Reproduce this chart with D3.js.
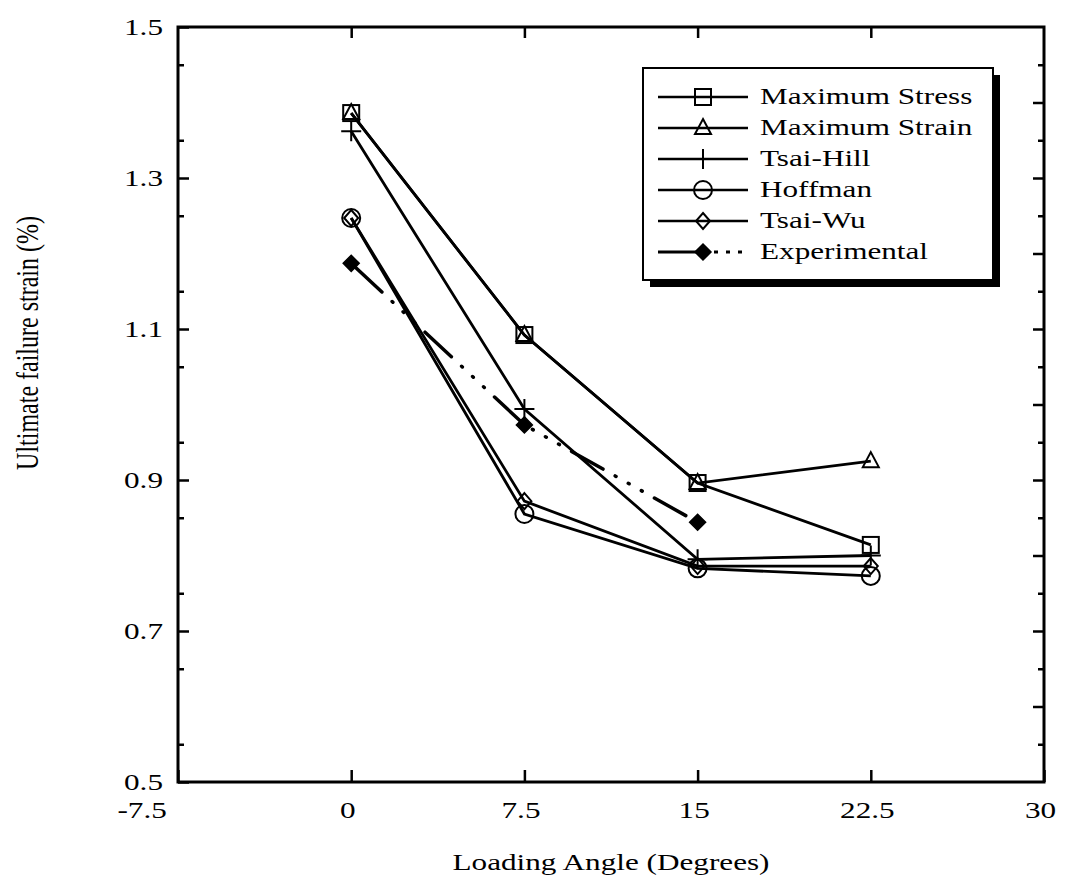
<!DOCTYPE html>
<html>
<head>
<meta charset="utf-8">
<script src="https://cdn.jsdelivr.net/npm/d3@7"></script>
<style>
  body { margin: 0; background: #fff; }
  svg text { font-family: "Liberation Serif", "Times New Roman", Times, "DejaVu Serif", serif; }
</style>
</head>
<body>
<svg id="chart" width="1071" height="884"></svg>
<script>
// loading angles (degrees)
var angles = [0, 7.5, 15, 22.5];
var angles_exp = [0, 7.5, 15];

// ultimate failure strain (%) per criterion
var max_stress = [1.386, 1.092, 0.896, 0.814];
var max_strain = [1.386, 1.092, 0.896, 0.925];
var tsai_hill = [1.362, 0.994, 0.795, 0.800];
var hoffman = [1.247, 0.855, 0.783, 0.773];
var tsai_wu = [1.247, 0.872, 0.786, 0.786];
var experimental = [1.187, 0.973, 0.844];

var series_names = ["Maximum Stress", "Maximum Strain", "Tsai-Hill", "Hoffman", "Tsai-Wu", "Experimental"];

var x_ticks = [-7.5, 0, 7.5, 15, 22.5, 30];
var y_ticks = [0.5, 0.7, 0.9, 1.1, 1.3, 1.5];

var margin = {top: 27, right: 27, bottom: 102, left: 178};
var svg = d3.select("#chart");
var width = +svg.attr("width") - margin.left - margin.right;
var height = +svg.attr("height") - margin.top - margin.bottom;
var g = svg.append("g").attr("transform", `translate(${margin.left}, ${margin.top})`);

var xScale = d3.scaleLinear().domain([-7.5, 30]).range([0, width]);
var yScale = d3.scaleLinear().domain([0.5, 1.5]).range([height, 0]);

var minor_y = d3.range(0.55, 1.5, 0.1).map(d => +d.toFixed(2));

// the scanned figure is wider than tall, so text is stretched sideways
var K = 1.3;
function stretch(sel) {
  sel.each(function() {
    var t = d3.select(this);
    var x = +t.attr("x") || 0;
    t.attr("x", x / K).attr("transform", `scale(${K},1)`);
  });
}

function styleAxis(sel) {
  sel.attr("font-family", null).attr("font-size", null);
  sel.select(".domain").remove();
  sel.selectAll(".tick line").attr("stroke", "#000").attr("stroke-width", 2.5);
  sel.selectAll(".tick text").attr("fill", "#000").attr("font-size", 24).call(stretch);
}

// left axis
g.append("g")
  .call(d3.axisLeft(yScale).tickValues(y_ticks).tickSize(-11).tickPadding(15).tickFormat(d3.format(".1f")))
  .call(styleAxis);
g.append("g")
  .call(d3.axisLeft(yScale).tickValues(minor_y).tickSize(-6).tickFormat(""))
  .call(styleAxis);
// right axis
g.append("g")
  .attr("transform", `translate(${width}, 0)`)
  .call(d3.axisRight(yScale).tickValues(d3.range(0.6, 1.45, 0.1).map(d => +d.toFixed(2))).tickSize(-11).tickFormat(""))
  .call(styleAxis);
g.append("g")
  .attr("transform", `translate(${width}, 0)`)
  .call(d3.axisRight(yScale).tickValues(minor_y).tickSize(-6).tickFormat(""))
  .call(styleAxis);
// bottom axis
var xAxis = g.append("g")
  .attr("transform", `translate(0, ${height})`)
  .call(d3.axisBottom(xScale).tickValues(x_ticks).tickSize(-12).tickPadding(19).tickFormat(d => d))
  .call(styleAxis);
// labels sit a little left of their ticks; the first one well left of the axis
xAxis.selectAll(".tick text").attr("dx", (d, i) => i == 0 ? -28 : -3);
// top axis
g.append("g")
  .call(d3.axisTop(xScale).tickValues(x_ticks.slice(1, -1)).tickSize(-11).tickFormat(""))
  .call(styleAxis);

// frame
g.append("rect")
  .attr("width", width).attr("height", height)
  .attr("fill", "none").attr("stroke", "#000").attr("stroke-width", 3);

// axis titles
svg.append("text")
  .attr("x", 611).attr("y", 870)
  .attr("text-anchor", "middle").attr("font-size", 24)
  .text("Loading Angle (Degrees)")
  .call(stretch);
svg.append("text")
  .attr("transform", `translate(38, 343) rotate(-90) scale(1,${K})`)
  .attr("text-anchor", "middle").attr("font-size", 24)
  .text("Ultimate failure strain (%)");

// markers
function drawMarker(sel, type, x, y) {
  var s = 8;
  if (type == "square") {
    sel.append("rect").attr("x", x - s).attr("y", y - s).attr("width", 2 * s).attr("height", 2 * s)
      .attr("fill", "none").attr("stroke", "#000").attr("stroke-width", 2);
  } else if (type == "triangle") {
    sel.append("path").attr("d", `M${x},${y - 9}L${x + 8},${y + 6}L${x - 8},${y + 6}Z`)
      .attr("fill", "none").attr("stroke", "#000").attr("stroke-width", 2);
  } else if (type == "plus") {
    sel.append("path").attr("d", `M${x - 10},${y}H${x + 10}M${x},${y - 10}V${y + 10}`)
      .attr("fill", "none").attr("stroke", "#000").attr("stroke-width", 2);
  } else if (type == "circle") {
    sel.append("circle").attr("cx", x).attr("cy", y).attr("r", 9)
      .attr("fill", "none").attr("stroke", "#000").attr("stroke-width", 2);
  } else if (type == "diamond") {
    sel.append("path").attr("d", `M${x},${y - 8}L${x + 7},${y}L${x},${y + 8}L${x - 7},${y}Z`)
      .attr("fill", "none").attr("stroke", "#000").attr("stroke-width", 2);
  } else if (type == "fdiamond") {
    sel.append("path").attr("d", `M${x},${y - 8}L${x + 8},${y}L${x},${y + 8}L${x - 8},${y}Z`)
      .attr("fill", "#000").attr("stroke", "#000").attr("stroke-width", 1.5);
  }
}

var all_series = [
  {vals: max_stress, xs: angles, marker: "square", dash: null},
  {vals: max_strain, xs: angles, marker: "triangle", dash: null},
  {vals: tsai_hill, xs: angles, marker: "plus", dash: null},
  {vals: hoffman, xs: angles, marker: "circle", dash: null},
  {vals: tsai_wu, xs: angles, marker: "diamond", dash: null},
  {vals: experimental, xs: angles_exp, marker: "fdiamond", dash: "36,14,1,14,1,14,1,14"}
];

all_series.forEach(function(s) {
  var pts = s.vals.map((v, i) => [s.xs[i], v]);
  var line = d3.line().x(d => xScale(d[0])).y(d => yScale(d[1]));
  var p = g.append("path").datum(pts)
    .attr("fill", "none").attr("stroke", "#000").attr("stroke-width", 2.8)
    .attr("d", line);
  if (s.dash) {
    p.attr("stroke-dasharray", s.dash).attr("stroke-linecap", "round").attr("stroke-width", 3.5)
      .attr("stroke-dashoffset", -6);
  }
  var mg = g.append("g");
  pts.forEach(d => drawMarker(mg, s.marker, xScale(d[0]), yScale(d[1])));
});

// legend
var lx = 643, ly = 68, lw = 350, lh = 212;
svg.append("rect").attr("x", lx + 7).attr("y", ly + 7).attr("width", lw).attr("height", lh).attr("fill", "#000");
svg.append("rect").attr("x", lx).attr("y", ly).attr("width", lw).attr("height", lh)
  .attr("fill", "#fff").attr("stroke", "#000").attr("stroke-width", 2);

series_names.forEach(function(name, i) {
  var y = 97 + i * 31;
  var s = all_series[i];
  if (s.dash) {
    svg.append("line").attr("x1", 658).attr("x2", 703).attr("y1", y).attr("y2", y)
      .attr("stroke", "#000").attr("stroke-width", 2.8);
    svg.append("line").attr("x1", 714).attr("x2", 748).attr("y1", y).attr("y2", y)
      .attr("stroke", "#000").attr("stroke-width", 2.8).attr("stroke-dasharray", "4,8");
  } else {
    svg.append("line").attr("x1", 658).attr("x2", 748).attr("y1", y).attr("y2", y)
      .attr("stroke", "#000").attr("stroke-width", 2.5);
  }
  drawMarker(svg.append("g"), s.marker, 703, y);
  svg.append("text").attr("x", 760).attr("y", y + 7).attr("font-size", 24).text(name).call(stretch);
});
</script>
</body>
</html>
